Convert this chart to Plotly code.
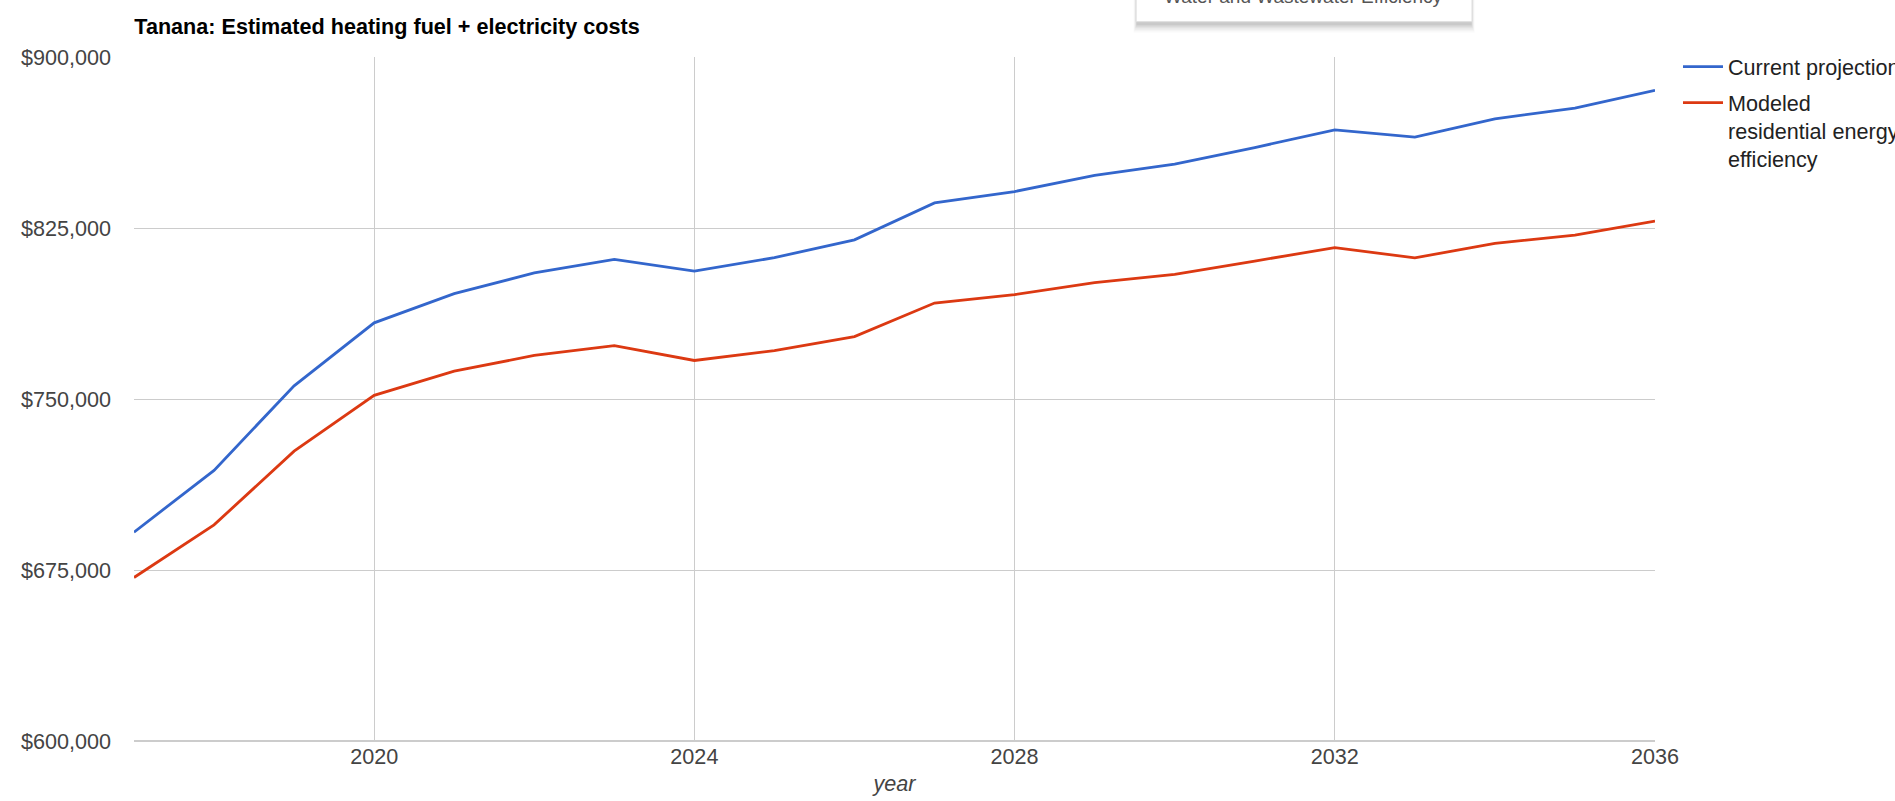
import plotly.graph_objects as go

# Annual projected costs for Tanana (heating fuel + electricity)
years = list(range(2017, 2037))
current_projection = [
    691600, 718700, 755800, 783400, 796200, 805300, 811200, 806100, 812000, 819800,
    836000, 841000, 848100, 853000, 860300, 868000, 864900, 872900, 877600, 885400,
]
modeled_efficiency = [
    671700, 694800, 727100, 751600, 762200, 769100, 773400, 766900, 771200, 777400,
    792100, 795800, 801000, 804700, 810500, 816400, 811900, 818300, 821900, 828000,
]
series_names = ["Current projection", "Modeled<br>residential energy<br>efficiency"]
series_colors = ["#3366CC", "#DC3912"]
x_ticks = [2020, 2024, 2028, 2032, 2036]
y_ticks = [600000, 675000, 750000, 825000, 900000]

W, H = 1895, 801
PLOT_L, PLOT_R, PLOT_T, PLOT_B = 133.7, 1655, 57, 741
FONT = "Liberation Sans, Arial, sans-serif"
FS = 21.6


def px_x(p):
    """Pixel column -> paper x."""
    return (p - PLOT_L) / (PLOT_R - PLOT_L)


def px_y(p):
    """Pixel row -> paper y."""
    return (PLOT_B - p) / (PLOT_B - PLOT_T)


fig = go.Figure()
for i, (name, values, color) in enumerate(
        zip(series_names, [current_projection, modeled_efficiency], series_colors)):
    fig.add_trace(go.Scatter(
        x=years, y=values, name=name, mode="lines",
        line=dict(color=color, width=2.8), legendgroup=f"g{i}",
    ))

# dropdown menu panel peeking in at the top edge, with a soft drop shadow
shapes = []
for i, op in enumerate([0.02, 0.025, 0.03, 0.04, 0.05, 0.06]):
    g = 6 - i
    shapes.append(dict(
        type="rect", xref="paper", yref="paper", layer="above",
        x0=px_x(1137 - 0.6 * g), x1=px_x(1471 + 0.6 * g), y0=px_y(21.7 + 2 + 1.5 * g), y1=px_y(-60),
        line=dict(width=0), fillcolor=f"rgba(0,0,0,{op})",
    ))
shapes.append(dict(
    type="rect", xref="paper", yref="paper", layer="above",
    x0=px_x(1136), x1=px_x(1472), y0=px_y(21.7), y1=px_y(-60),
    line=dict(color="#dddddd", width=1), fillcolor="white",
))

fig.update_layout(
    width=W, height=H,
    margin=dict(l=PLOT_L, r=W - PLOT_R, t=PLOT_T, b=H - PLOT_B, autoexpand=False),
    plot_bgcolor="white", paper_bgcolor="white",
    font=dict(family=FONT, size=FS, color="#444444"),
    title=dict(
        text="<b>Tanana: Estimated heating fuel + electricity costs</b>",
        x=px_x(134), xref="paper", xanchor="left",
        y=1 - 26.8 / H, yref="container", yanchor="middle",
        font=dict(family=FONT, size=FS, color="#000000"),
    ),
    xaxis=dict(
        range=[2017, 2036], tickvals=x_ticks,
        showgrid=True, gridcolor="#cccccc", gridwidth=1,
        zeroline=False, showline=False, ticks="",
        tickfont=dict(size=FS, color="#444444"),
        title=dict(text="year", font=dict(family=FONT, size=FS, color="#444444", style="italic"), standoff=8),
    ),
    yaxis=dict(
        range=[600000, 900000], tickvals=y_ticks, tickformat="$,.0f",
        showgrid=True, gridcolor="#cccccc", gridwidth=1,
        zeroline=False, showline=False, ticks="",
        ticklabelstandoff=22,
        tickfont=dict(size=FS, color="#444444"),
    ),
    legend=dict(
        x=px_x(1678), xanchor="left", y=px_y(46), yanchor="top",
        font=dict(family=FONT, size=FS, color="#222222"),
        bgcolor="rgba(0,0,0,0)", borderwidth=0, itemwidth=40,
        tracegroupgap=5, valign="top",
    ),
    shapes=shapes + [
        # baseline along the bottom of the plot
        dict(type="line", xref="paper", yref="paper", x0=0, x1=1, y0=0, y1=0,
             line=dict(color="#cccccc", width=2), layer="above"),
    ],
    annotations=[
        dict(text="Water and Wastewater Efficiency", xref="paper", yref="paper",
             x=px_x(1303), y=px_y(5), xanchor="center", yanchor="bottom",
             showarrow=False, font=dict(family=FONT, size=19, color="#555555"), yshift=-4),
    ],
)

fig.write_html("out.html")
